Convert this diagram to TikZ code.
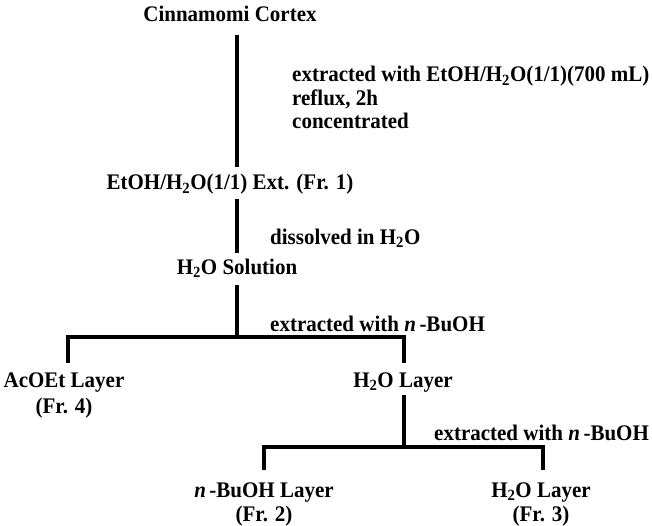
\documentclass[tikz,border=0pt]{standalone}
\usepackage{fontspec}
\setmainfont{Liberation Serif}
\begin{document}
\begin{tikzpicture}[x=1pt,y=-1pt,
  lbl/.style={font=\fontsize{21}{23}\selectfont\bfseries, inner sep=0pt, anchor=base, yscale=1.06},
  note/.style={lbl, anchor=base west},
  conn/.style={line width=3.8pt, line cap=butt}]
\useasboundingbox (0,0) rectangle (652,526);
% nodes
\node[lbl] (cc) at (230,22) {Cinnamomi Cortex};
\node[note] (n1) at (292,82) {extracted with EtOH/H\textsubscript{2}O(1/1)(700 mL)};
\node[note] (n2) at (292,106) {reflux, 2h};
\node[note] (n3) at (292,129) {concentrated};
\node[lbl] (ext) at (230,190) {EtOH/H\textsubscript{2}O(1/1) Ext. (Fr. 1)};
\node[note] (n4) at (270,244) {dissolved in H\textsubscript{2}O};
\node[lbl] (sol) at (237,274) {H\textsubscript{2}O Solution};
\node[note] (n5) at (270,331) {extracted with \textit{n}\,-BuOH};
\node[lbl] (ac) at (64,387) {AcOEt Layer};
\node[lbl] (ac2) at (64,413) {(Fr. 4)};
\node[lbl] (wl) at (403,387) {H\textsubscript{2}O Layer};
\node[note] (n6) at (434,440) {extracted with \textit{n}\,-BuOH};
\node[lbl] (bu) at (264,497) {\textit{n}\,-BuOH Layer};
\node[lbl] (bu2) at (264,521) {(Fr. 2)};
\node[lbl] (w3) at (541,497) {H\textsubscript{2}O Layer};
\node[lbl] (w32) at (541,521) {(Fr. 3)};
% junction coordinates
\coordinate (a0) at (237,35);
\coordinate (a1) at (237,167);
\coordinate (b0) at (237,199);
\coordinate (b1) at (237,253);
\coordinate (c0) at (237,285);
\coordinate (c1) at (237,337);
\coordinate (cl) at (68,337);
\coordinate (cr) at (404,337);
\coordinate (cld) at (68,363);
\coordinate (crd) at (404,363);
\coordinate (d0) at (404,395);
\coordinate (d1) at (404,447);
\coordinate (dl) at (264,447);
\coordinate (dr) at (543,447);
\coordinate (dld) at (264,470);
\coordinate (drd) at (543,470);
% connectors
\draw[conn] (a0) -- (a1);
\draw[conn] (b0) -- (b1);
\draw[conn] (c0) -- (c1);
\draw[conn] (cld) -- (cl) -- (cr) -- (crd);
\draw[conn] (d0) -- (d1);
\draw[conn] (dld) -- (dl) -- (dr) -- (drd);
\end{tikzpicture}
\end{document}
